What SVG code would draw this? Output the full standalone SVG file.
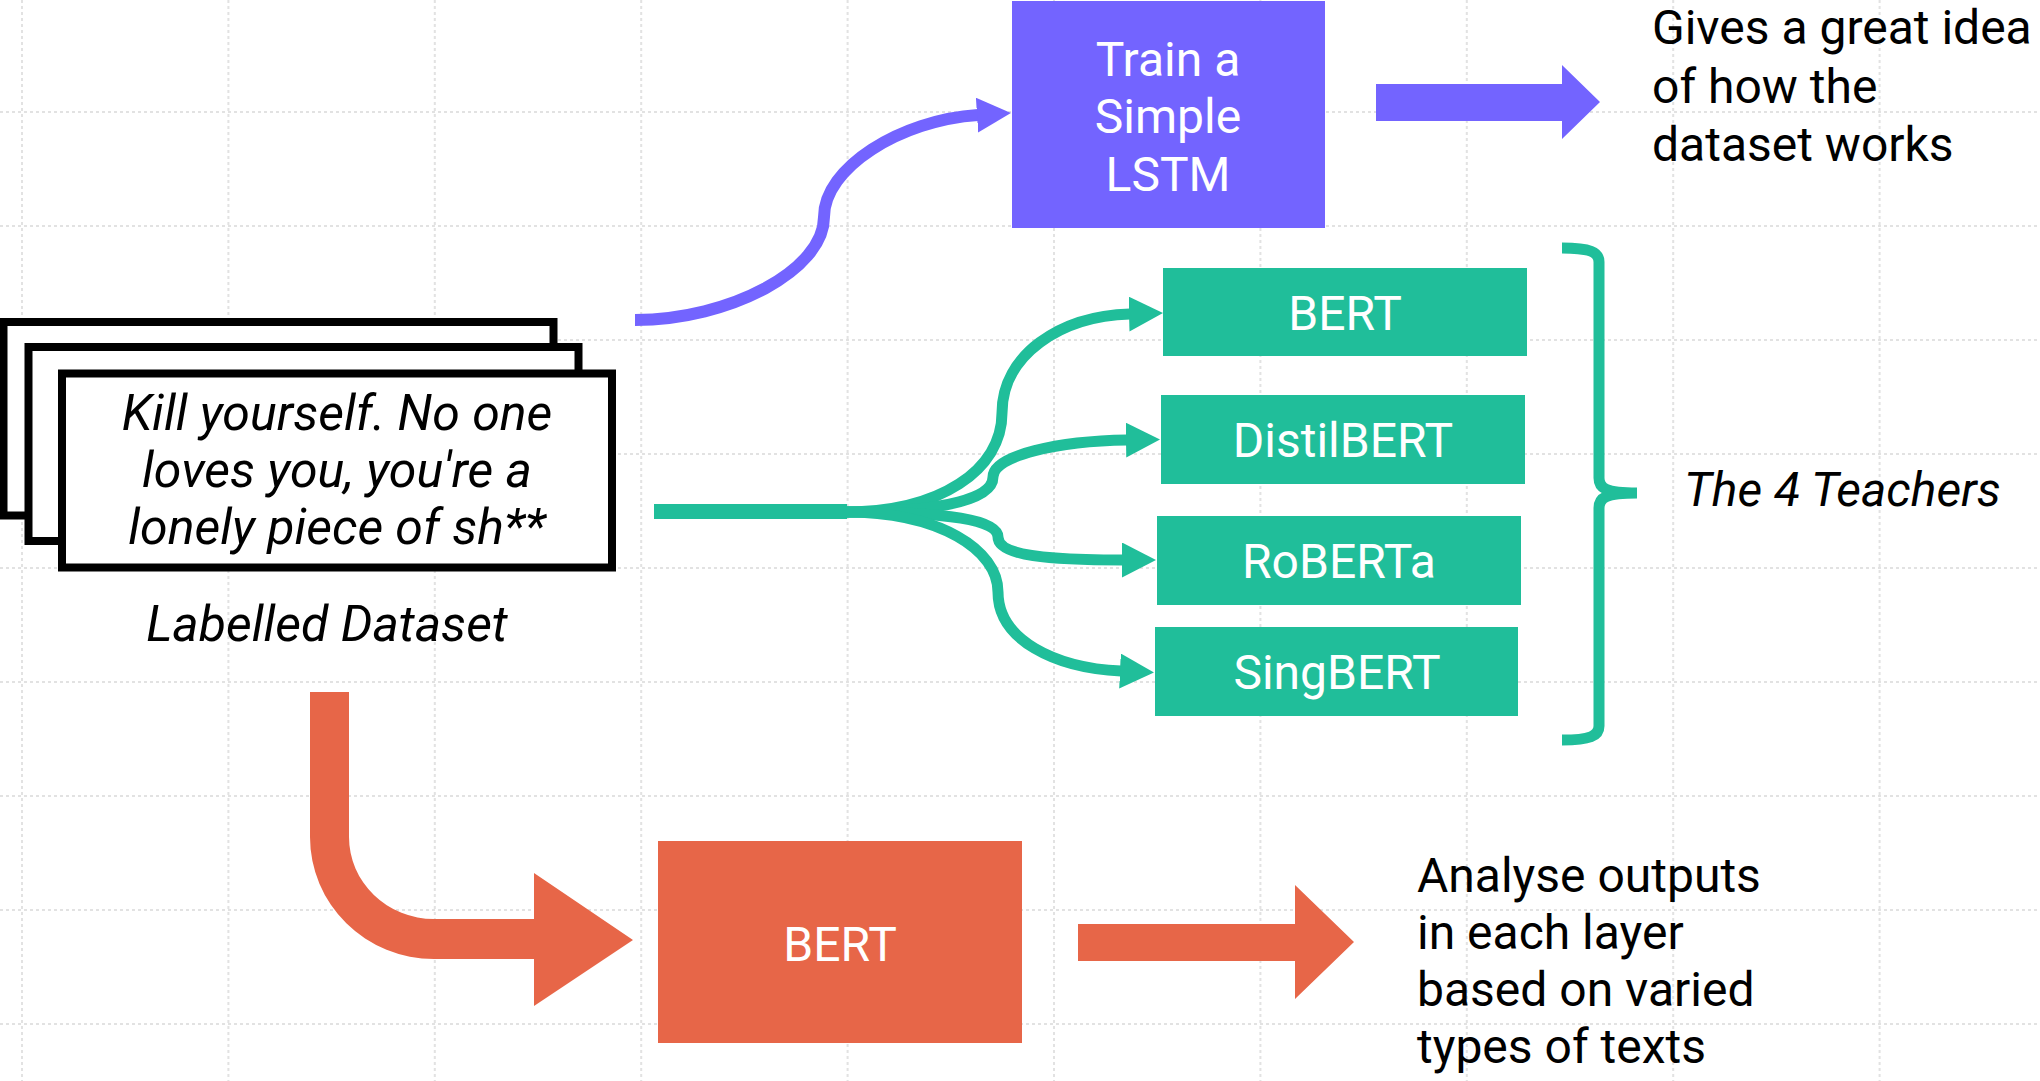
<svg xmlns="http://www.w3.org/2000/svg" width="2040" height="1081" viewBox="0 0 2040 1081">
<style>
  .grid { stroke: #e2e2e2; stroke-width: 2; stroke-dasharray: 3 3; fill: none; }
  .card { fill: #ffffff; stroke: #000000; stroke-width: 8; }
  .t { font-family: Roboto, "Liberation Sans", sans-serif; font-size: 48px; }
  .it { font-style: italic; }
  .big { font-size: 50px; }
  .blk { fill: #000000; }
  .wht { fill: #ffffff; text-anchor: middle; }
  .mid { text-anchor: middle; }
  .purple { fill: #7364FF; }
  .teal { fill: #20BE9A; }
  .orange { fill: #E76648; }
  .pline { fill: none; stroke: #7364FF; stroke-width: 12; }
  .tline { fill: none; stroke: #20BE9A; stroke-width: 11; }
</style>
<defs>
  <marker id="arrP" markerUnits="userSpaceOnUse" markerWidth="40" markerHeight="40" refX="1" refY="17.5" orient="auto">
    <path d="M0,0 L34,17.5 L0,35 Z" fill="#7364FF"/>
  </marker>
  <marker id="arrT" markerUnits="userSpaceOnUse" markerWidth="40" markerHeight="40" refX="1" refY="17.5" orient="auto">
    <path d="M0,0 L34,17.5 L0,35 Z" fill="#20BE9A"/>
  </marker>
</defs>
<rect width="2040" height="1081" fill="#ffffff"/>
<g id="grid">
  <path class="grid" d="M22,0V1081 M228.4,0V1081 M434.8,0V1081 M641.2,0V1081 M847.6,0V1081 M1054,0V1081 M1260.4,0V1081 M1466.8,0V1081 M1673.2,0V1081 M1879.6,0V1081 M0,112H2040 M0,226H2040 M0,340H2040 M0,454H2040 M0,568H2040 M0,682H2040 M0,796H2040 M0,910H2040 M0,1024H2040"/>
</g>
<g id="connectors">
  <path class="pline" d="M635,320 C730,320 824,270 824,217 C824,168 900,120 978,115" marker-end="url(#arrP)"/>
  <rect class="teal" x="654" y="504" width="193" height="15"/>
  <path class="tline" d="M845,512 C940,512 1002,470 1002,413 C1002,355 1060,316 1130,314" marker-end="url(#arrT)"/>
  <path class="tline" d="M845,512 C950,512 993,497 993,477 C993,455 1060,441 1127,440" marker-end="url(#arrT)"/>
  <path class="tline" d="M845,512 C950,512 998,520 998,537 C998,556 1050,560 1123,560" marker-end="url(#arrT)"/>
  <path class="tline" d="M845,512 C940,512 998,550 998,592 C998,640 1055,668 1121,671" marker-end="url(#arrT)"/>
  <path class="purple" d="M1376,84 L1562,84 L1562,65 L1600,102 L1562,139 L1562,121 L1376,121 Z"/>
  <path class="orange" d="M310,692 L349,692 L349,837 A85,82 0 0 0 434,919 L534,919 L534,873 L633,940 L534,1006 L534,959 L434,959 A124,122 0 0 1 310,837 Z"/>
  <path class="orange" d="M1078,924 L1295,924 L1295,885 L1354,942 L1295,999 L1295,961 L1078,961 Z"/>
</g>
<g id="dataset">
  <rect class="card" x="3.5" y="322" width="550" height="193.5"/>
  <rect class="card" x="28.5" y="347" width="550" height="194"/>
  <rect class="card" x="62" y="373.5" width="550" height="194"/>
  <text class="t it big blk mid" x="337" y="430">Kill yourself. No one</text>
  <text class="t it big blk mid" x="337" y="487">loves you, you're a</text>
  <text class="t it big blk mid" x="337" y="544">lonely piece of sh**</text>
  <text class="t it big blk mid" x="327" y="641">Labelled Dataset</text>
</g>
<g id="lstm">
  <rect class="purple" x="1012" y="1" width="313" height="227"/>
  <text class="t wht" x="1168" y="76">Train a</text>
  <text class="t wht" x="1168" y="133">Simple</text>
  <text class="t wht" x="1168" y="191">LSTM</text>
</g>
<g id="gives">
  <text class="t blk" x="1652" y="44">Gives a great idea</text>
  <text class="t blk" x="1652" y="103">of how the</text>
  <text class="t blk" x="1652" y="161">dataset works</text>
</g>
<g id="teacher-bert">
  <rect class="teal" x="1163" y="268" width="364" height="88"/>
  <text class="t wht" x="1345" y="330">BERT</text>
</g>
<g id="teacher-distilbert">
  <rect class="teal" x="1161" y="395" width="364" height="89"/>
  <text class="t wht" x="1343" y="457">DistilBERT</text>
</g>
<g id="teacher-roberta">
  <rect class="teal" x="1157" y="516" width="364" height="89"/>
  <text class="t wht" x="1339" y="578">RoBERTa</text>
</g>
<g id="teacher-singbert">
  <rect class="teal" x="1155" y="627" width="363" height="89"/>
  <text class="t wht" x="1337" y="689">SingBERT</text>
</g>
<g id="teachers">
  <path d="M1562,248 C1590,248 1599,252 1599,262 L1599,478 C1599,488 1605,493 1637,493 M1637,493 C1605,493 1599,498 1599,508 L1599,726 C1599,736 1590,740 1562,740" fill="none" stroke="#20BE9A" stroke-width="11"/>
  <text class="t it blk" x="1684" y="506">The 4 Teachers</text>
</g>
<g id="bert-analysis">
  <rect class="orange" x="658" y="841" width="364" height="202"/>
  <text class="t wht" x="840" y="961">BERT</text>
</g>
<g id="analyse">
  <text class="t blk" x="1417" y="892">Analyse outputs</text>
  <text class="t blk" x="1417" y="949">in each layer</text>
  <text class="t blk" x="1417" y="1006">based on varied</text>
  <text class="t blk" x="1417" y="1063">types of texts</text>
</g>
</svg>
